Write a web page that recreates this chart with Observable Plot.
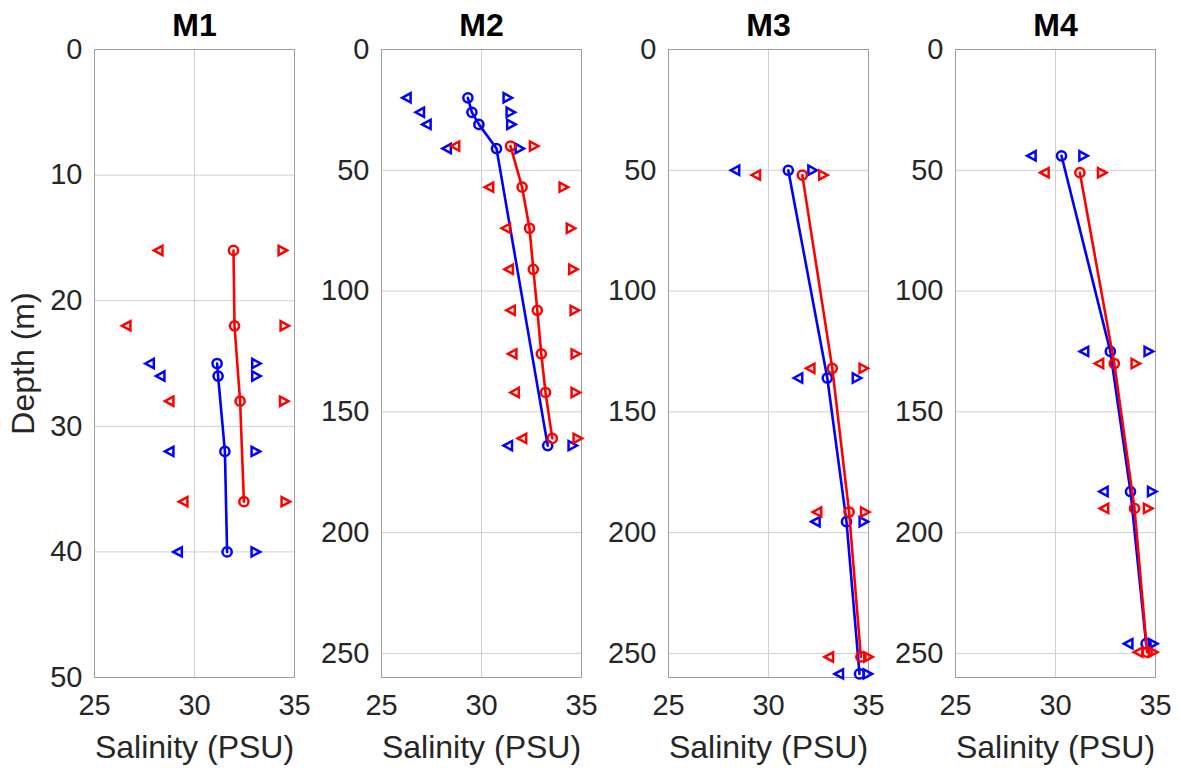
<!DOCTYPE html>
<html><head><meta charset="utf-8">
<script src="https://cdn.jsdelivr.net/npm/d3@7"></script>
<script src="https://cdn.jsdelivr.net/npm/@observablehq/plot@0.6"></script>
<style>
body{margin:0;background:#fff;}
#chart{position:relative;width:1179px;height:771px;overflow:hidden;background:#fff;}
#chart svg{position:absolute;top:0;}
</style></head><body><div id="chart"></div>
<script>
// ---------- data (salinity in PSU, depth in m) ----------
const panelNames = ["M1", "M2", "M3", "M4"];
const xTicks = [25, 30, 35];
const yTicksM1 = [0, 10, 20, 30, 40, 50];
const yTicksDeep = [0, 50, 100, 150, 200, 250];

// M1
const m1BlueDepth = [25, 26, 32, 40];
const m1BlueMean  = [31.13, 31.18, 31.52, 31.63];
const m1BlueMin   = [27.77, 28.3, 28.75, 29.17];
const m1BlueMax   = [33.08, 33.08, 33.05, 33.05];
const m1RedDepth  = [16, 22, 28, 36];
const m1RedMean   = [31.95, 32.0, 32.28, 32.47];
const m1RedMin    = [28.2, 26.6, 28.75, 29.45];
const m1RedMax    = [34.4, 34.5, 34.47, 34.55];

// M2
const m2BlueDepth = [20, 26, 31, 41, 164];
const m2BlueMean  = [29.32, 29.52, 29.87, 30.75, 33.31];
const m2BlueMin   = [26.26, 26.93, 27.26, 28.27, 31.33];
const m2BlueMax   = [31.3, 31.45, 31.48, 31.9, 34.55];
const m2RedDepth  = [40, 57, 74, 91, 108, 126, 142, 161];
const m2RedMean   = [31.45, 32.03, 32.4, 32.59, 32.79, 32.99, 33.2, 33.54];
const m2RedMin    = [28.69, 30.39, 31.23, 31.37, 31.47, 31.55, 31.67, 32.04];
const m2RedMax    = [32.62, 34.1, 34.46, 34.58, 34.65, 34.7, 34.7, 34.8];

// M3
const m3BlueDepth = [50, 136, 195.5, 258.5];
const m3BlueMean  = [30.99, 32.94, 33.9, 34.55];
const m3BlueMin   = [28.34, 31.49, 32.36, 33.53];
const m3BlueMax   = [32.19, 34.41, 34.75, 34.95];
const m3RedDepth  = [52, 132, 191.5, 251.5];
const m3RedMean   = [31.69, 33.19, 34.03, 34.62];
const m3RedMin    = [29.38, 32.1, 32.44, 33.03];
const m3RedMax    = [32.73, 34.75, 34.82, 34.98];

// M4
const m4BlueDepth = [44, 125, 183, 246];
const m4BlueMean  = [30.3, 32.74, 33.75, 34.53];
const m4BlueMin   = [28.81, 31.44, 32.41, 33.65];
const m4BlueMax   = [31.39, 34.65, 34.82, 34.87];
const m4RedDepth  = [51, 130, 190, 249.5];
const m4RedMean   = [31.22, 32.94, 33.95, 34.58];
const m4RedMin    = [29.46, 32.19, 32.44, 34.15];
const m4RedMax    = [32.32, 34.0, 34.62, 34.87];

// ---------- build tables ----------
function rows(depth, mean, min, max) {
  return depth.map((d, i) => ({depth: d, mean: mean[i], min: min[i], max: max[i]}));
}
const panels = [
  {name: panelNames[0], yMax: 50, yTicks: yTicksM1,
   blue: rows(m1BlueDepth, m1BlueMean, m1BlueMin, m1BlueMax),
   red: rows(m1RedDepth, m1RedMean, m1RedMin, m1RedMax)},
  {name: panelNames[1], yMax: 260, yTicks: yTicksDeep,
   blue: rows(m2BlueDepth, m2BlueMean, m2BlueMin, m2BlueMax),
   red: rows(m2RedDepth, m2RedMean, m2RedMin, m2RedMax)},
  {name: panelNames[2], yMax: 260, yTicks: yTicksDeep,
   blue: rows(m3BlueDepth, m3BlueMean, m3BlueMin, m3BlueMax),
   red: rows(m3RedDepth, m3RedMean, m3RedMin, m3RedMax)},
  {name: panelNames[3], yMax: 260, yTicks: yTicksDeep,
   blue: rows(m4BlueDepth, m4BlueMean, m4BlueMin, m4BlueMax),
   red: rows(m4RedDepth, m4RedMean, m4RedMin, m4RedMax)}
];

// ---------- custom marker symbols (MATLAB '<' and '>') ----------
const triLeft = {draw(ctx, size) {
  const r = Math.sqrt(size / Math.PI);
  ctx.moveTo(-r, 0); ctx.lineTo(r * 0.85, -r); ctx.lineTo(r * 0.85, r); ctx.closePath();
}};
const triRight = {draw(ctx, size) {
  const r = Math.sqrt(size / Math.PI);
  ctx.moveTo(r, 0); ctx.lineTo(-r * 0.85, -r); ctx.lineTo(-r * 0.85, r); ctx.closePath();
}};

// ---------- layout ----------
const FONT = '"Liberation Sans", Arial, Helvetica, sans-serif';
const panelLeft = [94, 381, 668, 955];
const panelW = 200;
const mL = 80, mR = 6, mT = 49, mB = 94;

function seriesMarks(data, color) {
  const common = {y: "depth", r: 4.6, stroke: color, strokeWidth: 2.5, fill: "none"};
  return [
    Plot.line(data, {x: "mean", y: "depth", stroke: color, strokeWidth: 2.6}),
    Plot.dot(data, {...common, x: "mean", symbol: "circle"}),
    Plot.dot(data, {...common, x: "min", symbol: triLeft}),
    Plot.dot(data, {...common, x: "max", symbol: triRight})
  ];
}

const chart = document.getElementById("chart");
panels.forEach((p, i) => {
  const marks = [
    Plot.gridX(xTicks, {stroke: "#cfcfcf", strokeOpacity: 1, strokeWidth: 1}),
    Plot.gridY(p.yTicks, {stroke: "#cfcfcf", strokeOpacity: 1, strokeWidth: 1}),
    Plot.frame({stroke: "#a0a0a0", strokeWidth: 1}),
    Plot.axisX(xTicks, {tickSize: 0, tickPadding: 17, fontSize: 29, label: null, fill: "#262626"}),
    Plot.axisY(p.yTicks, {tickSize: 0, tickPadding: 12, fontSize: 29, label: null, fill: "#262626"}),
    ...seriesMarks(p.blue, "#0000ff"),
    ...seriesMarks(p.red, "#ff0000"),
    Plot.text([p.name], {frameAnchor: "top", textAnchor: "middle", lineAnchor: "middle", dy: -24,
      fontSize: 32, fontWeight: "bold", fill: "#000"}),
    Plot.text(["Salinity (PSU)"], {frameAnchor: "bottom", textAnchor: "middle", lineAnchor: "middle", dy: 70,
      fontSize: 32, fill: "#262626"})
  ];
  if (i === 0) {
    marks.push(Plot.text(["Depth (m)"], {frameAnchor: "left", textAnchor: "middle", lineAnchor: "middle",
      dx: -71, rotate: -90, fontSize: 32, fill: "#262626"}));
  }
  const svg = Plot.plot({
    width: mL + panelW + mR,
    height: 771,
    marginLeft: mL, marginRight: mR, marginTop: mT, marginBottom: mB,
    style: {fontFamily: FONT, fontSize: "29px", background: "transparent", overflow: "visible"},
    x: {domain: [25, 35], axis: null},
    y: {domain: [0, p.yMax], reverse: true, axis: null},
    marks
  });
  svg.style.left = (panelLeft[i] - mL) + "px";
  chart.appendChild(svg);
});
</script>
</body></html>
